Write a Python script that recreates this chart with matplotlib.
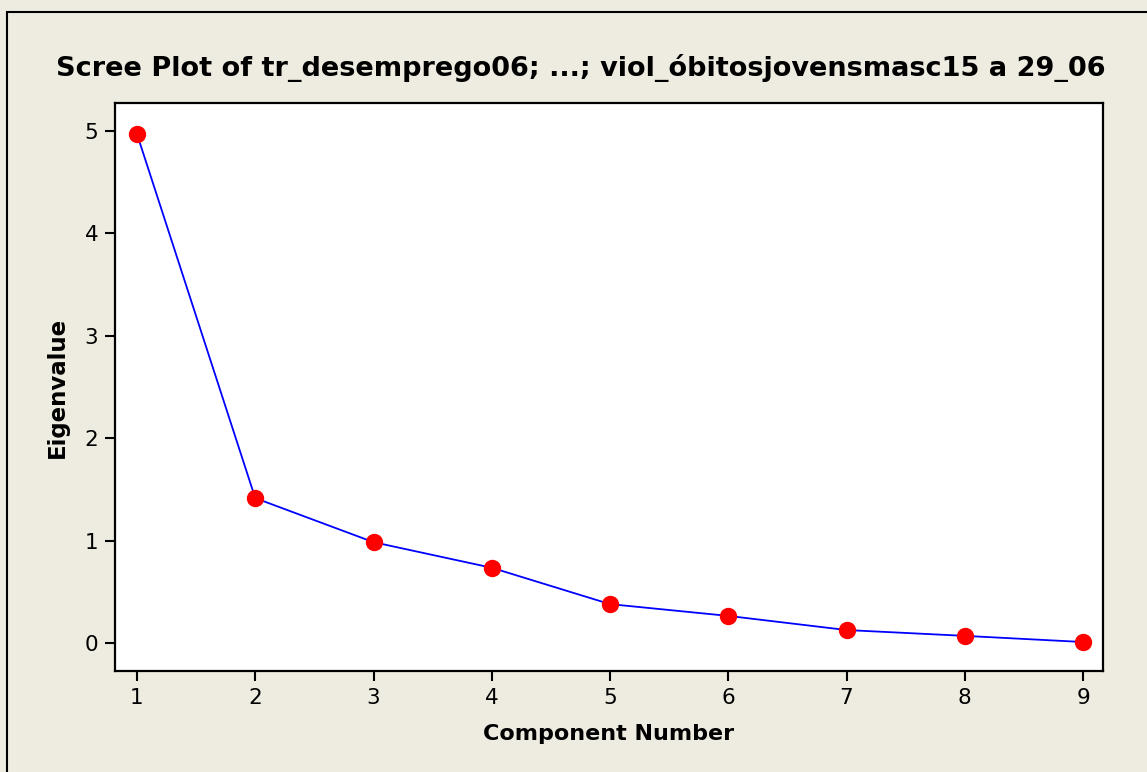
import matplotlib.pyplot as plt
from matplotlib.patches import Rectangle

# Eigenvalues for each principal component
components = [1, 2, 3, 4, 5, 6, 7, 8, 9]
eigenvalues = [4.97, 1.415, 0.985, 0.735, 0.38, 0.265, 0.127, 0.07, 0.01]

title = "Scree Plot of tr_desemprego06; ...; viol_óbitosjovensmasc15 a 29_06"

W, H = 1147, 772
bg = "#EEEBE1"

fig = plt.figure(figsize=(W / 100, H / 100), dpi=100, facecolor=bg)

# outer frame, only the top and left edges fall inside the canvas
fig.patches.append(Rectangle((7 / W, -0.1), 1.2, (H - 12) / H + 0.1,
                             transform=fig.transFigure, fill=False,
                             edgecolor="black", linewidth=1.5))

ax = fig.add_axes([115 / W, 1 - 671 / H, (1103 - 115) / W, (671 - 103) / H])
ax.set_facecolor("white")

ax.plot(components, eigenvalues, color="blue", linewidth=1.3, zorder=2)
ax.plot(components, eigenvalues, linestyle="none", marker="o",
        markersize=11.5, color="red", zorder=3)

ax.set_xlim(0.814, 9.169)
ax.set_ylim(-0.273, 5.273)
ax.set_xticks(components)
ax.set_yticks(range(0, 6))

for s in ax.spines.values():
    s.set_linewidth(1.6)

ax.tick_params(direction="out", length=7, width=1.5, labelsize=15.5, pad=5)

ax.set_xlabel("Component Number", fontsize=16, fontweight="bold", labelpad=12)
ax.set_ylabel("Eigenvalue", fontsize=16.5, fontweight="bold", labelpad=11)

fig.text(581 / W, 1 - 68 / H, title, ha="center", va="center",
         fontsize=19.5, fontweight="bold")

fig.savefig("out.png", dpi=100, facecolor=bg)
